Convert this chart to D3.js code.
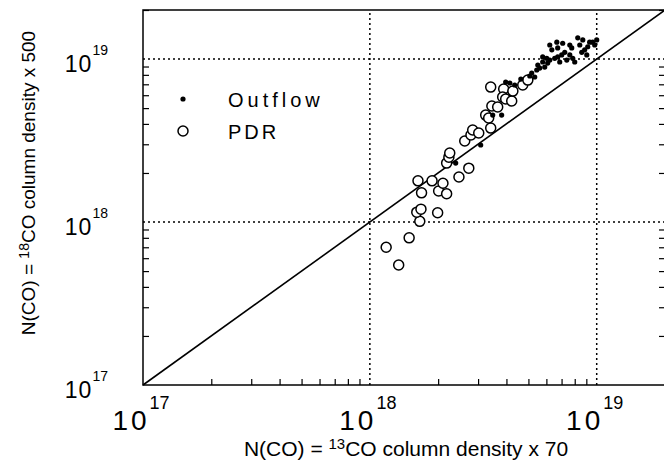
<!doctype html>
<html lang="en">
<head>
    <title>CO column density</title>
    <script src="https://d3js.org/d3.v7.min.js"></script>
    <style>
        body { margin: 0; background: #fff; }
        text { font-family: "Liberation Sans", Arial, sans-serif; fill: #000; }
    </style>
</head>
<body>
<script>
    // values in units of 1e18 cm^-2
    const outflowX = [2.39, 3.08, 3.48, 3.81, 3.97, 4.14, 4.35, 4.63, 5.07, 5.17, 5.33, 5.44, 5.50, 5.61,
        5.78, 5.90, 5.78, 6.02, 6.21, 6.34, 6.21, 6.08, 6.67, 6.73, 6.87, 7.01, 7.08, 7.23, 7.38, 7.61,
        7.61, 7.76, 7.84, 8.00, 8.25, 8.42, 8.68, 8.59, 8.85, 9.04, 9.13, 9.31, 9.60, 9.80, 10.0, 6.73, 6.53];
    const outflowY = [2.30, 2.97, 4.53, 4.53, 7.23, 7.13, 6.93, 7.54, 7.87, 8.21, 7.76, 8.57, 9.19, 8.81,
        9.59, 8.93, 10.3, 10.1, 12.2, 11.4, 9.86, 9.45, 12.7, 10.3, 9.59, 10.6, 12.5, 11.0, 9.86, 10.6,
        12.2, 11.7, 10.1, 9.59, 13.5, 12.2, 13.1, 11.0, 11.4, 10.6, 11.9, 12.7, 12.7, 12.2, 13.1, 11.7, 10.1];

    const pdrX = [1.18, 1.34, 1.49, 1.66, 1.61, 1.68, 1.99, 1.63, 1.69, 1.88, 2.01, 2.10, 2.18, 2.47,
        2.73, 2.18, 2.23, 2.25, 2.62, 2.79, 2.84, 3.02, 3.41, 3.24, 3.34, 3.45, 3.66, 3.41, 3.89, 3.85,
        3.97, 4.22, 4.27, 4.72, 4.97];
    const pdrY = [0.70, 0.545, 0.80, 1.01, 1.15, 1.20, 1.14, 1.79, 1.51, 1.79, 1.55, 1.73, 1.49, 1.89,
        2.14, 2.30, 2.50, 2.65, 3.14, 3.42, 3.67, 3.52, 3.77, 4.53, 4.35, 5.15, 5.08, 6.73, 6.55, 5.85,
        5.69, 5.53, 6.36, 6.93, 7.43];

    const decades = [17, 18, 19];
    const legendNames = ["Outflow", "PDR"];

    const width = 664, height = 464;
    const svg = d3.select("body").append("svg")
        .attr("width", width)
        .attr("height", height);

    // log scales, 1e17 .. 2e19
    const x = d3.scaleLog().domain([0.1, 20]).range([143, 665]);
    const y = d3.scaleLog().domain([0.1, 20]).range([385, 10]);

    const minor = [];
    [0.1, 1, 10].forEach(function (d) {
        for (let k = 2; k <= 9; k++) {
            if (d * k <= 20) minor.push(d * k);
        }
    });

    // minor ticks (inward)
    svg.append("g")
        .attr("transform", "translate(0," + y(0.1) + ")")
        .call(d3.axisBottom(x).tickValues(minor).tickSize(-6).tickFormat(""))
        .call(g => g.select(".domain").remove())
        .selectAll("line").attr("stroke-width", 1.2);
    svg.append("g")
        .attr("transform", "translate(" + x(0.1) + ",0)")
        .call(d3.axisLeft(y).tickValues(minor).tickSize(-6).tickFormat(""))
        .call(g => g.select(".domain").remove())
        .selectAll("line").attr("stroke-width", 1.2);
    svg.append("g")
        .attr("transform", "translate(" + x(20) + ",0)")
        .call(d3.axisRight(y).tickValues(minor).tickSize(-6).tickFormat(""))
        .call(g => g.select(".domain").remove())
        .selectAll("line").attr("stroke-width", 1.2);

    // dotted grid at 1e18 and 1e19
    const grid = [1, 10];
    svg.append("g").selectAll("line").data(grid).enter().append("line")
        .attr("x1", d => x(d)).attr("x2", d => x(d))
        .attr("y1", y(0.1)).attr("y2", y(20))
        .attr("stroke", "#000").attr("stroke-width", 1.5)
        .attr("stroke-dasharray", "2,3");
    svg.append("g").selectAll("line").data(grid).enter().append("line")
        .attr("y1", d => y(d)).attr("y2", d => y(d))
        .attr("x1", x(0.1)).attr("x2", x(20))
        .attr("stroke", "#000").attr("stroke-width", 1.5)
        .attr("stroke-dasharray", "2,3");

    // frame
    svg.append("rect")
        .attr("x", x(0.1)).attr("y", y(20))
        .attr("width", x(20) - x(0.1)).attr("height", y(0.1) - y(20))
        .attr("fill", "none").attr("stroke", "#000").attr("stroke-width", 1.5);

    // one-to-one line
    svg.append("line")
        .attr("x1", x(0.1)).attr("y1", y(0.1))
        .attr("x2", x(20)).attr("y2", y(20))
        .attr("stroke", "#000").attr("stroke-width", 1.6);

    // data
    svg.append("g").selectAll("circle").data(pdrX).enter().append("circle")
        .attr("cx", d => x(d))
        .attr("cy", (d, i) => y(pdrY[i]))
        .attr("r", 5)
        .attr("fill", "#fff").attr("stroke", "#000").attr("stroke-width", 1.5);
    svg.append("g").selectAll("circle").data(outflowX).enter().append("circle")
        .attr("cx", d => x(d))
        .attr("cy", (d, i) => y(outflowY[i]))
        .attr("r", 2.6)
        .attr("fill", "#000");

    // tick labels 10^n
    decades.forEach(function (n) {
        const v = Math.pow(10, n - 18);
        const tx = svg.append("text")
            .attr("x", x(v) - 2).attr("y", 430)
            .attr("text-anchor", "middle")
            .style("font-size", "28px").style("letter-spacing", "3px");
        tx.append("tspan").text("10");
        tx.append("tspan").attr("dy", -21).style("font-size", "18px").style("letter-spacing", "0px").text(n);

        const ty = svg.append("text")
            .attr("x", 108).attr("y", y(v) + 13)
            .attr("text-anchor", "end")
            .style("font-size", "23px").style("letter-spacing", "1px");
        ty.append("tspan").text("10");
        ty.append("tspan").attr("dy", -17).style("font-size", "14px").style("letter-spacing", "0px").text(n);
    });

    // axis titles
    const xt = svg.append("text")
        .attr("x", 406).attr("y", 456)
        .attr("text-anchor", "middle")
        .style("font-size", "21px");
    xt.append("tspan").text("N(CO) = ");
    xt.append("tspan").attr("dy", -7).style("font-size", "15px").text("13");
    xt.append("tspan").attr("dy", 7).text("CO column density x 70");

    const yt = svg.append("text")
        .attr("transform", "translate(35,183) rotate(-90)")
        .attr("text-anchor", "middle")
        .style("font-size", "19px");
    yt.append("tspan").text("N(CO) = ");
    yt.append("tspan").attr("dy", -6).style("font-size", "14px").text("18");
    yt.append("tspan").attr("dy", 6).text("CO column density x 500");

    // legend
    const legend = svg.append("g");
    legend.append("circle").attr("cx", 183).attr("cy", 99).attr("r", 2.6).attr("fill", "#000");
    legend.append("circle").attr("cx", 183).attr("cy", 131).attr("r", 5)
        .attr("fill", "#fff").attr("stroke", "#000").attr("stroke-width", 1.5);
    legend.selectAll("text").data(legendNames).enter().append("text")
        .attr("x", 228)
        .attr("y", (d, i) => 107 + i * 32)
        .style("font-size", "20px")
        .style("letter-spacing", (d, i) => i === 0 ? "4px" : "3px")
        .text(d => d);
</script>
</body>
</html>
